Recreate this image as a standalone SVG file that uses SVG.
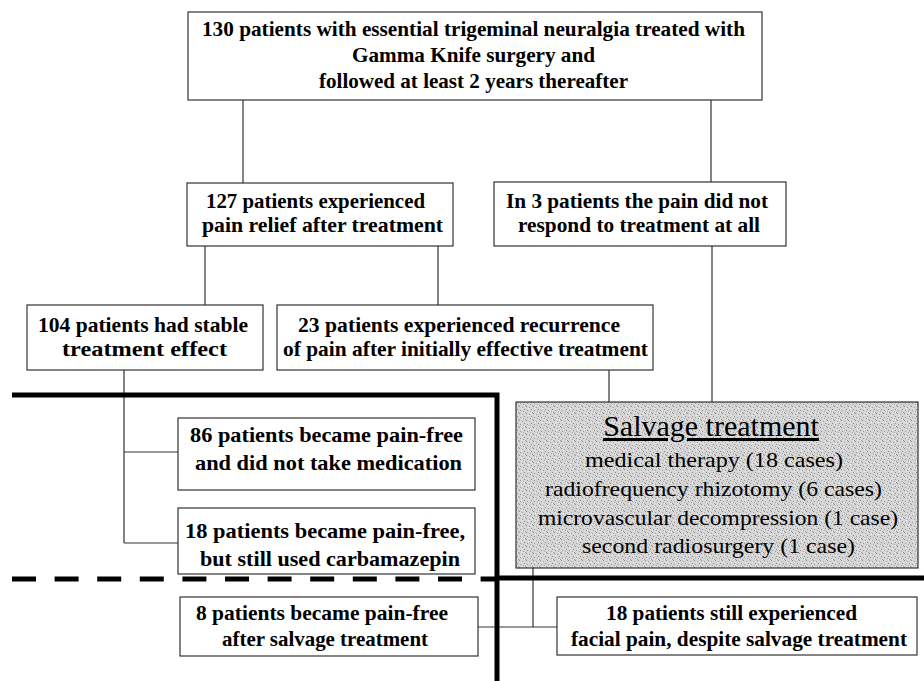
<svg xmlns="http://www.w3.org/2000/svg" width="924" height="681" viewBox="0 0 924 681">
<defs>
<style>
.box{fill:#fff;stroke:#333;stroke-width:1.2}
.t{font-family:"Liberation Serif","Times New Roman",serif;font-weight:bold;font-size:21px;fill:#000}
.s{font-family:"Liberation Serif","Times New Roman",serif;font-size:22px;fill:#000}
.c{fill:none;stroke:#333;stroke-width:1.2}
.thick{fill:none;stroke:#000;stroke-width:5}
</style>
<pattern id="stip" width="7" height="7" patternUnits="userSpaceOnUse">
<rect width="7" height="7" fill="#d6d6d6"/>
<rect x="1" y="0" width="1" height="1" fill="#8c8c8c"/>
<rect x="4" y="1" width="1" height="1" fill="#a0a0a0"/>
<rect x="6" y="3" width="1" height="1" fill="#8c8c8c"/>
<rect x="2" y="4" width="1" height="1" fill="#999"/>
<rect x="5" y="5" width="1" height="1" fill="#a5a5a5"/>
<rect x="0" y="6" width="1" height="1" fill="#909090"/>
<rect x="3" y="2" width="1" height="1" fill="#eee"/>
<rect x="6" y="6" width="1" height="1" fill="#f0f0f0"/>
</pattern>
</defs>
<rect width="924" height="681" fill="#fff"/>
<g id="connectors">
<path class="c" d="M243,100V183M711,100V182M205,246V305M438,246V305M712,246V402M609,370V402M124,370V543M124,452H178M124,543H178M533,568V627M478,627H557"/>
</g>
<g id="dividers">
<path class="thick" d="M12,395H497V681"/>
<path class="thick" d="M497,578H924"/>
<path class="thick" d="M12,579H497" stroke-dasharray="24,18.6"/>
</g>
<g id="n1"><rect class="box" x="188" y="12" width="574" height="88"/>
<text class="t" x="202" y="36" textLength="543" lengthAdjust="spacingAndGlyphs">130 patients with essential trigeminal neuralgia treated with</text>
<text class="t" x="352" y="62" textLength="243" lengthAdjust="spacingAndGlyphs">Gamma Knife surgery and</text>
<text class="t" x="319" y="88" textLength="309" lengthAdjust="spacingAndGlyphs">followed at least 2 years thereafter</text></g>
<g id="n2"><rect class="box" x="187" y="183" width="266" height="63"/>
<text class="t" x="206" y="208" textLength="219" lengthAdjust="spacingAndGlyphs">127 patients experienced</text>
<text class="t" x="202" y="232" textLength="241" lengthAdjust="spacingAndGlyphs">pain relief after treatment</text></g>
<g id="n3"><rect class="box" x="494" y="182" width="292" height="64"/>
<text class="t" x="506" y="208" textLength="262" lengthAdjust="spacingAndGlyphs">In 3 patients the pain did not</text>
<text class="t" x="518" y="232" textLength="242" lengthAdjust="spacingAndGlyphs">respond to treatment at all</text></g>
<g id="n4"><rect class="box" x="27" y="305" width="236" height="65"/>
<text class="t" x="38" y="332" textLength="210" lengthAdjust="spacingAndGlyphs">104 patients had stable</text>
<text class="t" x="62" y="356" textLength="165" lengthAdjust="spacingAndGlyphs">treatment effect</text></g>
<g id="n5"><rect class="box" x="277" y="305" width="376" height="65"/>
<text class="t" x="298" y="332" textLength="322" lengthAdjust="spacingAndGlyphs">23 patients experienced recurrence</text>
<text class="t" x="283" y="356" textLength="365" lengthAdjust="spacingAndGlyphs">of pain after initially effective treatment</text></g>
<g id="n6"><rect class="box" x="178" y="418" width="297" height="72"/>
<text class="t" x="190" y="442" textLength="273" lengthAdjust="spacingAndGlyphs">86 patients became pain-free</text>
<text class="t" x="195" y="470" textLength="267" lengthAdjust="spacingAndGlyphs">and did not take medication</text></g>
<g id="n7"><rect class="box" x="178" y="508" width="297" height="66"/>
<text class="t" x="185" y="538" textLength="280" lengthAdjust="spacingAndGlyphs">18 patients became pain-free,</text>
<text class="t" x="200" y="566" textLength="260" lengthAdjust="spacingAndGlyphs">but still used carbamazepin</text></g>
<g id="n8"><rect x="516" y="402" width="402" height="166" fill="url(#stip)" stroke="#333" stroke-width="1.2"/>
<text class="s" x="711" y="436" text-anchor="middle" style="font-size:30px" text-decoration="underline">Salvage treatment</text>
<text class="s" x="585" y="467" textLength="258" lengthAdjust="spacingAndGlyphs">medical therapy (18 cases)</text>
<text class="s" x="545" y="496" textLength="337" lengthAdjust="spacingAndGlyphs">radiofrequency rhizotomy (6 cases)</text>
<text class="s" x="538" y="525" textLength="360" lengthAdjust="spacingAndGlyphs">microvascular decompression (1 case)</text>
<text class="s" x="582" y="553" textLength="273" lengthAdjust="spacingAndGlyphs">second radiosurgery (1 case)</text></g>
<g id="n9"><rect class="box" x="180" y="597" width="298" height="59"/>
<text class="t" x="196" y="620" textLength="252" lengthAdjust="spacingAndGlyphs">8 patients became pain-free</text>
<text class="t" x="222" y="646" textLength="206" lengthAdjust="spacingAndGlyphs">after salvage treatment</text></g>
<g id="n10"><rect class="box" x="557" y="597" width="360" height="58"/>
<text class="t" x="606" y="620" textLength="251" lengthAdjust="spacingAndGlyphs">18 patients still experienced</text>
<text class="t" x="571" y="646" textLength="336" lengthAdjust="spacingAndGlyphs">facial pain, despite salvage treatment</text></g>
</svg>
